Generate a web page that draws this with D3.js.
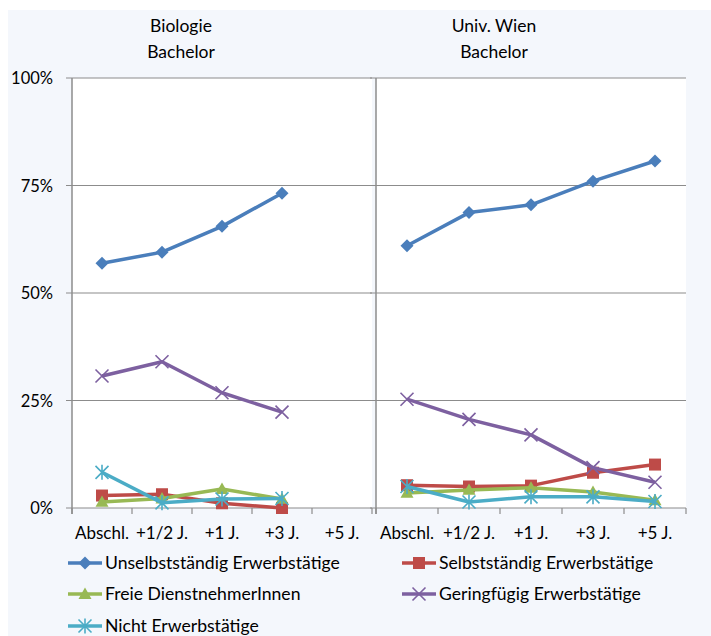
<!DOCTYPE html>
<html><head><meta charset="utf-8">
<script src="https://cdn.jsdelivr.net/npm/d3@7"></script>
<style>body{margin:0;background:#fff}svg{display:block}text{font-family:Lato,"Noto Sans",sans-serif;fill:#000}</style>
</head><body><svg id="c" width="711" height="636"></svg>
<script>
const categories = ["Abschl.", "+1/2 J.", "+1 J.", "+3 J.", "+5 J."];
const yTicks = [0, 25, 50, 75, 100];
const yTickLabels = ["0%", "25%", "50%", "75%", "100%"];
const panelTitles = [["Biologie", "Bachelor"], ["Univ. Wien", "Bachelor"]];
const seriesNames = ["Unselbstständig Erwerbstätige", "Selbstständig Erwerbstätige", "Freie DienstnehmerInnen", "Geringfügig Erwerbstätige", "Nicht Erwerbstätige"];
const seriesColors = ["#4a7ebb", "#be4b48", "#98b954", "#7d60a0", "#4bacc6"];
const seriesMarkers = ["diamond", "square", "triangle", "x", "asterisk"];
// Biologie Bachelor
const bioUnselbst = [56.9, 59.5, 65.5, 73.2, null];
const bioSelbst = [2.9, 3.2, 1.1, 0.0, null];
const bioFreie = [1.4, 2.2, 4.4, 2.1, null];
const bioGering = [30.7, 34.0, 26.8, 22.3, null];
const bioNicht = [8.3, 1.2, 2.1, 2.2, null];
// Univ. Wien Bachelor
const uniUnselbst = [61.0, 68.7, 70.5, 76.0, 80.7];
const uniSelbst = [5.3, 5.0, 5.2, 8.2, 10.1];
const uniFreie = [3.5, 4.2, 4.7, 3.7, 1.8];
const uniGering = [25.3, 20.6, 17.0, 9.4, 6.0];
const uniNicht = [5.0, 1.4, 2.6, 2.6, 1.5];

const panels = [
  {title: panelTitles[0], data: [bioUnselbst, bioSelbst, bioFreie, bioGering, bioNicht], x0: 72, x1: 372, gx0: 66, titleX: 181},
  {title: panelTitles[1], data: [uniUnselbst, uniSelbst, uniFreie, uniGering, uniNicht], x0: 376, x1: 686, gx0: 370, titleX: 494}
];

const svg = d3.select("#c");
svg.append("rect").attr("x", 8).attr("y", 10).attr("width", 703).attr("height", 626).attr("fill", "#f4f7fc");

const y = d3.scaleLinear().domain([0, 100]).range([508, 78]);
const grey = "#8c8c8c";

function drawMarker(g, type, cx, cy, color, s) {
  if (type === "diamond") {
    g.append("path").attr("d", `M${cx},${cy - s}L${cx + s},${cy}L${cx},${cy + s}L${cx - s},${cy}Z`).attr("fill", color);
  } else if (type === "square") {
    g.append("rect").attr("x", cx - s + 0.5).attr("y", cy - s + 0.5).attr("width", 2 * s - 1).attr("height", 2 * s - 1).attr("fill", color);
  } else if (type === "triangle") {
    g.append("path").attr("d", `M${cx},${cy - s}L${cx + s},${cy + s * 0.75}L${cx - s},${cy + s * 0.75}Z`).attr("fill", color);
  } else if (type === "x") {
    g.append("path").attr("d", `M${cx - s},${cy - s}L${cx + s},${cy + s}M${cx - s},${cy + s}L${cx + s},${cy - s}`).attr("stroke", color).attr("stroke-width", 1.6);
  } else if (type === "asterisk") {
    g.append("path").attr("d", `M${cx - s},${cy - s}L${cx + s},${cy + s}M${cx - s},${cy + s}L${cx + s},${cy - s}M${cx},${cy - s - 1}L${cx},${cy + s + 1}`).attr("stroke", color).attr("stroke-width", 1.6);
  }
}

panels.forEach((p, pi) => {
  const g = svg.append("g");
  const x = d3.scaleBand().domain(categories).range([p.x0, p.x1]);
  const cx = c => x(c) + x.bandwidth() / 2;
  g.append("rect").attr("x", p.x0).attr("y", y(100)).attr("width", p.x1 - p.x0).attr("height", y(0) - y(100)).attr("fill", "#fff");
  yTicks.forEach(t => {
    g.append("line").attr("x1", p.gx0).attr("x2", p.x1).attr("y1", y(t)).attr("y2", y(t)).attr("stroke", grey).attr("stroke-width", 1.2);
  });
  g.append("line").attr("x1", p.x0).attr("x2", p.x0).attr("y1", y(100)).attr("y2", y(0) + 6).attr("stroke", grey).attr("stroke-width", 1.5);
  categories.forEach(c => {
    g.append("line").attr("x1", x(c)).attr("x2", x(c)).attr("y1", y(0)).attr("y2", y(0) + 6).attr("stroke", grey).attr("stroke-width", 1.2);
  });
  g.append("line").attr("x1", p.x1).attr("x2", p.x1).attr("y1", y(0)).attr("y2", y(0) + 6).attr("stroke", grey).attr("stroke-width", 1.2);
  categories.forEach(c => {
    g.append("text").attr("x", cx(c)).attr("y", 539).attr("text-anchor", "middle").attr("font-size", 17).text(c);
  });
  p.title.forEach((t, i) => {
    g.append("text").attr("x", p.titleX).attr("y", 32 + i * 26).attr("text-anchor", "middle").attr("font-size", 17.5).text(t);
  });
  p.data.forEach((vals, si) => {
    const pts = categories.map((c, i) => ({c, v: vals[i]})).filter(d => d.v !== null);
    const line = d3.line().x(d => cx(d.c)).y(d => y(d.v));
    g.append("path").attr("d", line(pts)).attr("fill", "none").attr("stroke", seriesColors[si]).attr("stroke-width", 3.5).attr("stroke-linejoin", "round");
    pts.forEach(d => drawMarker(g, seriesMarkers[si], cx(d.c), y(d.v), seriesColors[si], 6.5));
  });
});

yTicks.forEach((t, i) => {
  svg.append("text").attr("x", 53).attr("y", y(t) + 6).attr("text-anchor", "end").attr("font-size", 16.5).text(yTickLabels[i]);
});

const legendPos = [[68, 563], [402, 563], [68, 594], [402, 594], [68, 626]];
seriesNames.forEach((n, i) => {
  const [lx, ly] = legendPos[i];
  const g = svg.append("g");
  g.append("line").attr("x1", lx).attr("x2", lx + 34).attr("y1", ly).attr("y2", ly).attr("stroke", seriesColors[i]).attr("stroke-width", 3.5);
  drawMarker(g, seriesMarkers[i], lx + 17, ly, seriesColors[i], 6.5);
  g.append("text").attr("x", lx + 37).attr("y", ly + 6).attr("font-size", 17.6).text(n);
});
</script></body></html>
